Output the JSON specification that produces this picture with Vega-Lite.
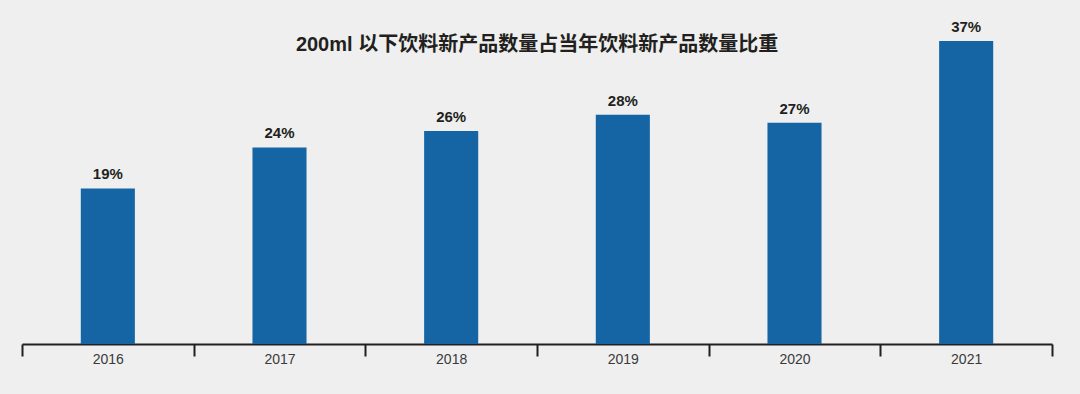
{
  "$schema": "https://vega.github.io/schema/vega-lite/v6.json",
  "width": 1030,
  "height": 344,
  "padding": {"left": 21, "right": 29, "top": 0, "bottom": 30},
  "background": "#eeefee",
  "title": {
    "text": "200ml 以下饮料新产品数量占当年饮料新产品数量比重",
    "orient": "top",
    "anchor": "middle",
    "offset": -55,
    "font": "Liberation Sans, Noto Sans CJK SC",
    "fontSize": 20,
    "fontWeight": "bold",
    "color": "#231f20"
  },
  "data": {
    "values": [
      {"year": "2016", "share": 0.19},
      {"year": "2017", "share": 0.24},
      {"year": "2018", "share": 0.26},
      {"year": "2019", "share": 0.28},
      {"year": "2020", "share": 0.27},
      {"year": "2021", "share": 0.37}
    ]
  },
  "encoding": {
    "x": {
      "field": "year",
      "type": "nominal",
      "sort": null,
      "scale": {"paddingInner": 0, "paddingOuter": 0},
      "axis": {
        "title": null,
        "labelAngle": 0,
        "tickBand": "extent",
        "tickSize": 12,
        "tickWidth": 2,
        "tickColor": "#231f20",
        "domainColor": "#231f20",
        "domainWidth": 2,
        "labelPadding": -4,
        "labelFont": "Liberation Sans",
        "labelFontSize": 14,
        "labelColor": "#3a3a3a",
        "grid": false
      }
    },
    "y": {
      "field": "share",
      "type": "quantitative",
      "scale": {"domain": [0, 0.42]},
      "axis": null
    }
  },
  "layer": [
    {
      "mark": {"type": "bar", "color": "#1565a5", "width": {"band": 0.315}}
    },
    {
      "mark": {
        "type": "text",
        "baseline": "alphabetic",
        "dy": -9,
        "font": "Liberation Sans",
        "fontSize": 15,
        "fontWeight": "bold",
        "color": "#231f20"
      },
      "encoding": {
        "text": {"field": "share", "type": "quantitative", "format": ".0%"}
      }
    }
  ],
  "config": {"view": {"stroke": null}}
}
